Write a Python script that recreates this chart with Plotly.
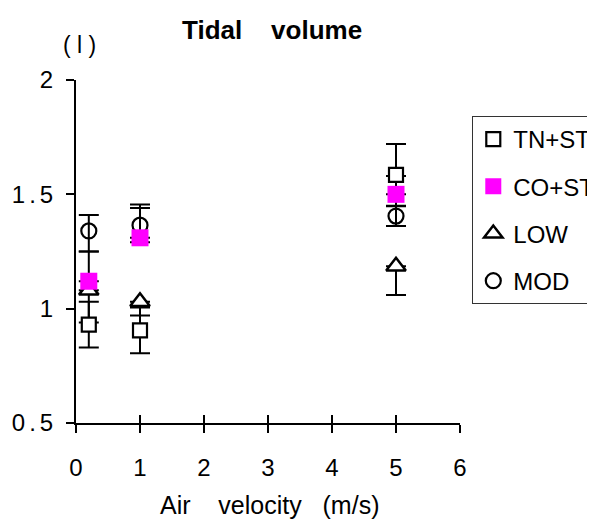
import plotly.graph_objects as go

# ---- data ----
air_velocity = [0.2, 1, 5]

tn_st = [0.93, 0.905, 1.585]
tn_st_err = [0.10, 0.10, 0.135]

co_st = [1.12, 1.31, 1.50]
co_st_err_plus = [0.13, 0.145, 0.08]

low = [1.08, 1.03, 1.185]
low_err_minus = [0.14, 0.06, 0.125]

mod = [1.34, 1.365, 1.405]
mod_err_plus = [0.07, 0.075, 0.043]
mod_err_minus = [0.09, 0.075, 0.043]

y_tickvals = [0.5, 1, 1.5, 2]
y_ticktext = ["0\u2006.\u20065", "1", "1\u2006.\u20065", "2"]
x_tickvals = [0, 1, 2, 3, 4, 5, 6]

FONT = "Liberation Sans, Arial, Helvetica, sans-serif"
CAP = 10
EW = 2
NB = "\u00a0"

fig = go.Figure()

# error bars first (below all markers)
def err_trace(y, plus, minus):
    return go.Scatter(
        x=air_velocity, y=y, mode="markers",
        marker=dict(size=1, color="rgba(0,0,0,0)"),
        error_y=dict(type="data", array=plus, arrayminus=minus, symmetric=False,
                     color="black", thickness=EW, width=CAP),
        showlegend=False, hoverinfo="skip")

zeros = [0, 0, 0]
fig.add_trace(err_trace(tn_st, tn_st_err, tn_st_err))
fig.add_trace(err_trace(co_st, co_st_err_plus, zeros))
fig.add_trace(err_trace(low, zeros, low_err_minus))
fig.add_trace(err_trace(mod, mod_err_plus, mod_err_minus))

# markers
fig.add_trace(go.Scatter(
    x=air_velocity, y=low, mode="markers", name="LOW", legendgroup="c", legendrank=3,
    marker=dict(symbol="triangle-up", size=17, color="white",
                line=dict(color="black", width=2.5))))
fig.add_trace(go.Scatter(
    x=air_velocity, y=mod, mode="markers", name="MOD", legendgroup="d", legendrank=4,
    marker=dict(symbol="circle-open", size=15, color="black",
                line=dict(color="black", width=2.2))))
fig.add_trace(go.Scatter(
    x=air_velocity, y=tn_st, mode="markers", name="TN+ST", legendgroup="a", legendrank=1,
    marker=dict(symbol="square", size=14, color="white",
                line=dict(color="black", width=2.2))))
fig.add_trace(go.Scatter(
    x=air_velocity, y=co_st, mode="markers", name="CO+ST", legendgroup="b", legendrank=2,
    marker=dict(symbol="square", size=17, color="#FF00FF", line=dict(width=0))))

# dummy trace for the crossing-tick overlay axis
fig.add_trace(go.Scatter(x=[], y=[], xaxis="x2", showlegend=False, hoverinfo="skip"))

fig.update_layout(
    width=595, height=520,
    margin=dict(l=68, r=143, t=72, b=105, autoexpand=False),
    paper_bgcolor="white", plot_bgcolor="white",
    font=dict(family=FONT, size=24, color="black"),
    showlegend=True,
    legend=dict(x=1.032, y=0.895, xanchor="left", yanchor="top",
                bordercolor="#333333", borderwidth=1, bgcolor="white",
                font=dict(family=FONT, size=24, color="black"),
                traceorder="grouped", tracegroupgap=13, itemsizing="trace"),
    xaxis=dict(range=[0, 6], tickvals=x_tickvals, ticks="outside", ticklen=8,
               tickwidth=2, tickcolor="black", showline=True, linecolor="black",
               linewidth=2, showgrid=False, zeroline=False,
               tickfont=dict(size=24), ticklabelstandoff=14),
    xaxis2=dict(range=[0, 6], tickvals=x_tickvals, ticks="inside", ticklen=8,
                tickwidth=2, tickcolor="black", showline=False, showgrid=False,
                zeroline=False, showticklabels=False, overlaying="x", anchor="y"),
    yaxis=dict(range=[0.5, 2], tickvals=y_tickvals, ticktext=y_ticktext,
               ticks="outside", ticklen=8, tickwidth=2, tickcolor="black",
               showline=True, linecolor="black", linewidth=2, showgrid=False,
               zeroline=False, tickfont=dict(size=24), ticklabelstandoff=8),
    annotations=[
        dict(text="<b>Tidal" + NB * 4 + "volume</b>", xref="paper", yref="paper",
             x=0.51, y=1.146, xanchor="center", yanchor="middle", showarrow=False,
             font=dict(family=FONT, size=26, color="black")),
        dict(text="Air" + NB * 4 + "velocity" + NB * 3 + "(m/s)", xref="paper", yref="paper",
             x=0.503, y=-0.239, xanchor="center", yanchor="middle", showarrow=False,
             font=dict(family=FONT, size=25, color="black")),
        dict(text="(" + NB + "l" + NB + ")", xref="paper", yref="paper",
             x=0.008, y=1.102, xanchor="center", yanchor="middle", showarrow=False,
             font=dict(family=FONT, size=23, color="black")),
    ],
)

fig.write_html("out.html")
